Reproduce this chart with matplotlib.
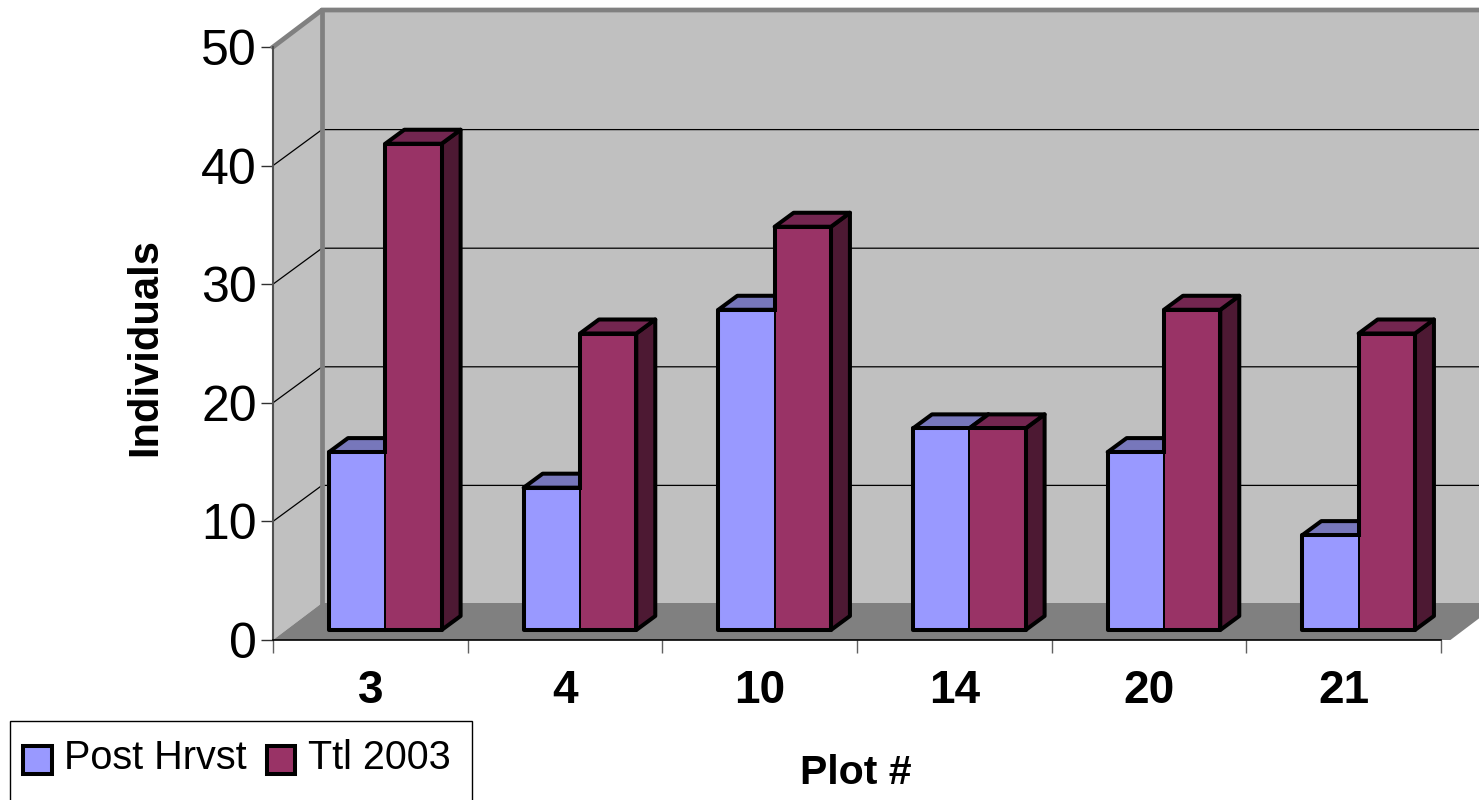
import matplotlib
matplotlib.use("Agg")
import matplotlib.pyplot as plt
from matplotlib.patches import Polygon, Rectangle

plt.rcParams['font.family'] = ['Liberation Sans', 'DejaVu Sans']

plots = ['3', '4', '10', '14', '20', '21']
post_hrvst = [15, 12, 27, 17, 15, 8]
ttl_2003 = [41, 25, 34, 17, 27, 25]
y_ticks = [0, 10, 20, 30, 40, 50]

W, H = 1479, 800
LEFT, RIGHT, BOTTOM, TOP = 273, 1441, 640, 47
XU = (RIGHT - LEFT) / len(plots)
YU = (BOTTOM - TOP) / 50

# depth of the box and of the bars, in data units
BOX_DX, BOX_DY = 49 / XU, 37 / YU
BAR_DX, BAR_DY = 19 / XU, 14 / YU
BAR_W = 56.3 / XU
BAR_X0 = (329 - LEFT) / XU
BAR_Y0 = 10 / YU
EDGE = 2.9

WALL = '#c0c0c0'
FLOOR = '#808080'
BLUE = ('#9999ff', '#7777bb', '#4d4d80')
MAROON = ('#993366', '#732650', '#4d1933')

fig = plt.figure(figsize=(W / 100, H / 100), dpi=100)
ax = fig.add_axes([LEFT / W, 1 - BOTTOM / H, (RIGHT - LEFT) / W, (BOTTOM - TOP) / H])
ax.set_xlim(0, len(plots))
ax.set_ylim(0, 50)
for name in ['top', 'right']:
    ax.spines[name].set_visible(False)
ax.patch.set_visible(False)
ax.spines['left'].set_color('#505050')
ax.spines['left'].set_linewidth(1.5)
ax.spines['bottom'].set_linewidth(1.2)


def add_poly(points, fc, ec='none', lw=0, z=1):
    ax.add_patch(Polygon(points, closed=True, fc=fc, ec=ec, lw=lw, zorder=z,
                         clip_on=False, joinstyle='round'))


n = len(plots) + 0.3
# walls and floor of the box
add_poly([(0, 0), (0, 50), (BOX_DX, 50 + BOX_DY), (BOX_DX, BOX_DY)], WALL)
add_poly([(BOX_DX, BOX_DY), (BOX_DX, 50 + BOX_DY), (n, 50 + BOX_DY), (n, BOX_DY)], WALL)
add_poly([(0, 0), (BOX_DX, BOX_DY), (n, BOX_DY), (n - BOX_DX, 0)], FLOOR)

# gridlines run along the side wall then the back wall
grid_drop = 1 / YU
for v in y_ticks[1:-1]:
    back = v + BOX_DY - grid_drop
    ax.plot([0, BOX_DX, n], [v, back, back], color='black', lw=0.9,
            zorder=1.5, clip_on=False)

# grey frame of the box
ax.plot([0, BOX_DX, n], [50, 50 + BOX_DY, 50 + BOX_DY], color=FLOOR, lw=3.4, zorder=1.6,
        clip_on=False, solid_joinstyle='miter')
ax.plot([BOX_DX, BOX_DX], [BOX_DY, 50 + BOX_DY], color=FLOOR, lw=3.4, zorder=1.6,
        clip_on=False)


def bar3d(x, v, colors, z):
    y0 = BAR_Y0
    y1 = BAR_Y0 + v
    x1 = x + BAR_W
    ec = dict(ec='black', lw=EDGE, z=z)
    add_poly([(x1, y0), (x1 + BAR_DX, y0 + BAR_DY), (x1 + BAR_DX, y1 + BAR_DY), (x1, y1)],
             colors[2], **ec)
    add_poly([(x, y1), (x1, y1), (x1 + BAR_DX, y1 + BAR_DY), (x + BAR_DX, y1 + BAR_DY)],
             colors[1], **ec)
    add_poly([(x, y0), (x1, y0), (x1, y1), (x, y1)], colors[0], **ec)


def thin_divider(x, low, z):
    # the line shared by a pair of bars is lighter than their outline
    mid = x + BAR_W
    t = 1 / XU
    e = 2 / XU
    ey = 2 / YU
    y0 = BAR_Y0 + ey
    y1 = BAR_Y0 + low - ey
    add_poly([(mid - 2.5 * e, y0), (mid - t, y0), (mid - t, y1), (mid - 2.5 * e, y1)], BLUE[0], z=z)
    add_poly([(mid + t, y0), (mid + 2.5 * e, y0), (mid + 2.5 * e, y1), (mid + t, y1)], MAROON[0], z=z)


for i in range(len(plots)):
    x = BAR_X0 + i
    bar3d(x, post_hrvst[i], BLUE, 2 + i * 0.1)
    bar3d(x + BAR_W, ttl_2003[i], MAROON, 2.03 + i * 0.1)
    thin_divider(x, post_hrvst[i], 2.06 + i * 0.1)

ax.set_yticks(y_ticks)
ax.set_xticks(range(len(plots) + 1))
ax.set_xticklabels([])
ax.set_xticks([i + 0.5 for i in range(len(plots))], plots, minor=True)
ax.tick_params(axis='y', length=8.5, width=1, color='#303030', labelsize=36, pad=3)
ax.tick_params(axis='x', which='major', length=9, width=1, color='#606060')
ax.tick_params(axis='x', which='minor', length=0, labelsize=33, pad=21)
for label in ax.get_xticklabels(minor=True):
    label.set_fontweight('bold')

ax.set_ylabel('Individuals', fontsize=30, fontweight='bold', va='center')
ax.yaxis.set_label_coords((145 - LEFT) / (RIGHT - LEFT), (BOTTOM - 347) / (BOTTOM - TOP))
ax.set_xlabel('Plot #', fontsize=29.5, fontweight='bold', va='center')
ax.xaxis.set_label_coords((856 - LEFT) / (RIGHT - LEFT), (BOTTOM - 773) / (BOTTOM - TOP))

# legend frame runs off the bottom of the figure
fig.add_artist(Rectangle((9.5 / W, -0.05), 462 / W, 0.05 + (H - 720.5) / H, fc='white',
                         ec='black', lw=1, transform=fig.transFigure))
handles = [Rectangle((0, 0), 1, 1, fc=BLUE[0], ec='black', lw=EDGE),
           Rectangle((0, 0), 1, 1, fc=MAROON[0], ec='black', lw=EDGE)]
leg = fig.legend(handles, ['Post Hrvst', 'Ttl 2003'], ncols=2, frameon=False, fontsize=28.5,
                 handlelength=0.72, handleheight=0.72, handletextpad=0.32, columnspacing=0.5,
                 borderpad=0, borderaxespad=0, loc='center left',
                 bbox_to_anchor=(23 / W, 1 - 758 / H))
# squares sit a little below the text line
for patch in leg.get_patches():
    patch.set_y(patch.get_y() - 3.5)

fig.savefig('out.png', dpi=100)
